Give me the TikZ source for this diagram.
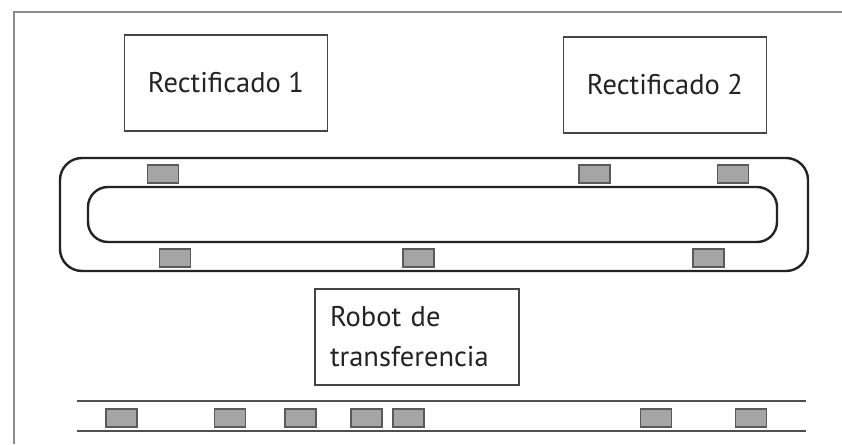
\documentclass[tikz,border=0pt]{standalone}
\usepackage{fontspec}
\setmainfont{PT Sans}
\usetikzlibrary{positioning}
\definecolor{myframe}{RGB}{140,140,140}
\definecolor{mycarrier}{RGB}{165,165,165}
\definecolor{myline}{RGB}{35,35,35}

\begin{document}
\begin{tikzpicture}[x=1pt,y=-1pt,
    station/.style={draw=myline!85,line width=1.4pt,minimum width=203pt,
      minimum height=96pt,inner sep=0pt,text=myline,
      font=\fontsize{28.5}{40}\selectfont},
    carrier/.style={draw=myline!75,fill=mycarrier,line width=1.1pt,
      minimum width=31pt,minimum height=18pt,inner sep=0pt},
    track/.style={draw=myline,line width=2.4pt}]
    \useasboundingbox (0,0) rectangle (842,444);
    % frame of the cell
    \draw[myframe,line width=2pt] (14,444) -- (14,12) -- (842,12);
    % grinding stations
    \node[station] (rect1) at (226,83) {Rectificado 1};
    \node[station] (rect2) at (665,85) {Rectificado 2};
    % closed loop conveyor
    \draw[track,rounded corners=22pt] (60,158) rectangle (808,271);
    \draw[track,rounded corners=20pt] (88,187) rectangle (777,242);
    \foreach \x [count=\i] in {163,594.5,733}
      \node[carrier] (top\i) at (\x,174) {};
    \foreach \x [count=\i] in {175,418.5,708.5}
      \node[carrier] (bot\i) at (\x,258) {};
    % transfer robot
    \node[station,align=left,text width=174pt,inner xsep=15pt,
      minimum width=204pt] (robot) at (417,337) {Robot de\\transferencia};
    % linear conveyor
    \draw[myline!80,line width=1.8pt] (77,401) -- (806,401);
    \draw[myline!80,line width=1.8pt] (77,431) -- (806,431);
    \foreach \x [count=\i] in {121.5,230,300.5,366.5,408.5,656,751}
      \node[carrier] (lin\i) at (\x,418) {};
\end{tikzpicture}
\end{document}
